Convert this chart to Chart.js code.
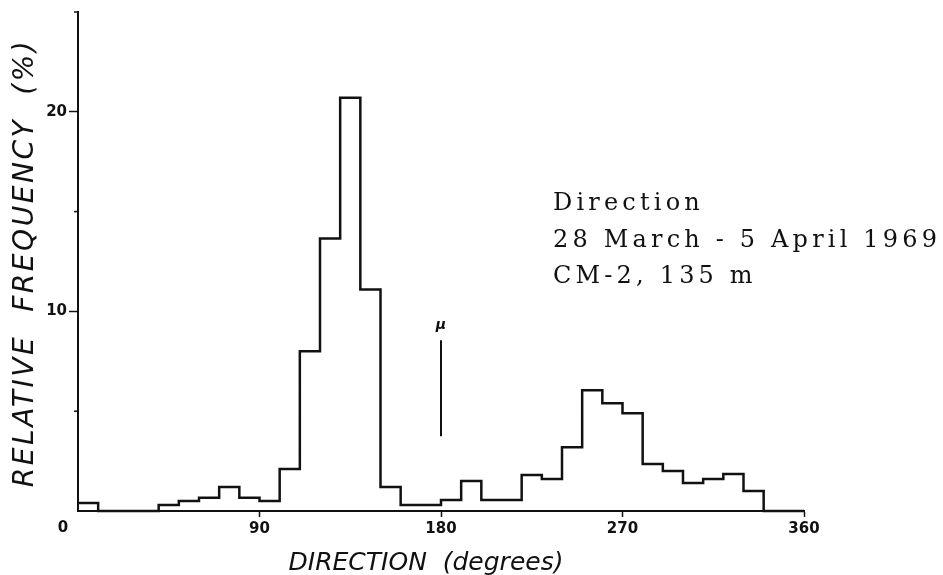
<!DOCTYPE html>
<html>
<head>
<meta charset="utf-8">
<script src="https://cdn.jsdelivr.net/npm/chart.js@4.4.1/dist/chart.umd.min.js"></script>
<style>
  html, body { margin: 0; padding: 0; background: #fff; }
  #chart { display: block; }
</style>
</head>
<body>
<canvas id="chart" width="943" height="575"></canvas>
<script>
// start of each 10 degree direction bin
const binStart = [0, 10, 20, 30, 40, 50, 60, 70, 80, 90, 100, 110, 120, 130, 140, 150, 160, 170,
  180, 190, 200, 210, 220, 230, 240, 250, 260, 270, 280, 290, 300, 310, 320, 330, 340, 350];
const binWidth = 10;
// relative frequency (%) per bin
const frequency = [0.4, 0, 0, 0, 0.3, 0.5, 0.67, 1.2, 0.67, 0.5, 2.1, 8.0, 13.65, 20.7, 11.1, 1.2, 0.3, 0.3,
  0.55, 1.5, 0.55, 0.55, 1.8, 1.6, 3.2, 6.05, 5.4, 4.9, 2.35, 2.0, 1.4, 1.6, 1.85, 1.0, 0, 0];

const xTicks = [0, 90, 180, 270, 360];
const yMajorTicks = [10, 20];
const yMinorTicks = [5, 15, 25];

// mean direction marker
const meanDirection = 180;
const meanMarker = [3.75, 8.55];

const infoLines = ["Direction", "28 March - 5 April 1969", "CM-2, 135 m"];

const ink = "#111";

// outline points for the stepped histogram: each bin holds its value until the next edge
const histPoints = binStart.map((x, i) => ({ x: x, y: frequency[i] }));
histPoints.push({ x: binStart[binStart.length - 1] + binWidth, y: frequency[frequency.length - 1] });

// letter spacing that stretches text to a given width
function spacingFor(ctx, text, width) {
  ctx.letterSpacing = "0px";
  const w = ctx.measureText(text).width;
  return Math.max(0, (width - w) / (text.length - 1));
}

const extras = {
  id: "extras",
  afterDraw(chart) {
    const ctx = chart.ctx;
    const xs = chart.scales.x;
    const ys = chart.scales.y;
    ctx.save();
    ctx.strokeStyle = ink;
    ctx.fillStyle = ink;

    // short minor ticks on the y axis
    ctx.lineWidth = 1.5;
    yMinorTicks.forEach((v) => {
      const y = ys.getPixelForValue(v);
      ctx.beginPath();
      ctx.moveTo(xs.left - 4, y);
      ctx.lineTo(xs.left, y);
      ctx.stroke();
    });

    // origin label
    ctx.font = "bold 15px 'DejaVu Sans'";
    ctx.textAlign = "center";
    ctx.textBaseline = "middle";
    ctx.fillText("0", xs.left - 15, ys.bottom + 17);

    // mu label above the mean marker
    ctx.font = "italic bold 14px 'DejaVu Sans'";
    ctx.fillText("\u03bc", xs.getPixelForValue(meanDirection), ys.getPixelForValue(meanMarker[1]) - 15);

    // axis titles
    ctx.font = "italic 28px 'DejaVu Sans'";
    const yTitle = "RELATIVE  FREQUENCY  (%)";
    ctx.letterSpacing = spacingFor(ctx, yTitle, 446) + "px";
    ctx.save();
    ctx.translate(26, 263);
    ctx.rotate(-Math.PI / 2);
    ctx.fillText(yTitle, 0, 0);
    ctx.restore();

    ctx.font = "italic 25px 'DejaVu Sans'";
    const xTitle = "DIRECTION  (degrees)";
    ctx.letterSpacing = spacingFor(ctx, xTitle, 272) + "px";
    ctx.textBaseline = "alphabetic";
    ctx.fillText(xTitle, 426, 570);

    // info block
    ctx.font = "24px 'DejaVu Serif'";
    ctx.letterSpacing = spacingFor(ctx, infoLines[1], 384) + "px";
    ctx.textAlign = "left";
    infoLines.forEach((line, i) => {
      ctx.fillText(line, 553, 210 + i * 36.5);
    });
    ctx.letterSpacing = "0px";
    ctx.restore();
  }
};

new Chart(document.getElementById("chart"), {
  type: "line",
  data: {
    datasets: [
      {
        label: "Direction",
        data: histPoints,
        stepped: "before",
        borderColor: ink,
        borderWidth: 2.5,
        pointRadius: 0,
        fill: false,
        clip: false
      },
      {
        label: "Mean",
        data: meanMarker.map((v) => ({ x: meanDirection, y: v })),
        borderColor: ink,
        borderWidth: 2,
        pointRadius: 0,
        fill: false
      }
    ]
  },
  options: {
    responsive: false,
    animation: false,
    layout: { padding: { left: 0, top: 12, right: 139, bottom: 0 } },
    plugins: { legend: { display: false }, tooltip: { enabled: false } },
    scales: {
      x: {
        type: "linear",
        min: 0,
        max: 360,
        afterBuildTicks: (s) => { s.ticks = xTicks.map((v) => ({ value: v })); },
        afterFit: (s) => { s.height = 64; },
        ticks: {
          color: ink,
          font: { family: "DejaVu Sans", size: 15, weight: "bold" },
          padding: 3,
          maxRotation: 0,
          callback: (v) => (v === 0 ? "" : String(v))
        },
        grid: {
          drawOnChartArea: false,
          tickLength: 6,
          tickWidth: 1.5,
          tickColor: (c) => (c.tick && c.tick.value === 0 ? "rgba(0,0,0,0)" : ink)
        },
        border: { display: true, color: ink, width: 2 }
      },
      y: {
        min: 0,
        max: 25,
        afterBuildTicks: (s) => { s.ticks = yMajorTicks.map((v) => ({ value: v })); },
        afterFit: (s) => { s.width = 78; },
        ticks: {
          color: ink,
          font: { family: "DejaVu Sans", size: 15, weight: "bold" },
          padding: 2,
          callback: (v) => String(v)
        },
        grid: {
          drawOnChartArea: false,
          tickLength: 9,
          tickWidth: 1.5,
          tickColor: ink
        },
        border: { display: true, color: ink, width: 2 }
      }
    }
  },
  plugins: [extras]
});
</script>
</body>
</html>
